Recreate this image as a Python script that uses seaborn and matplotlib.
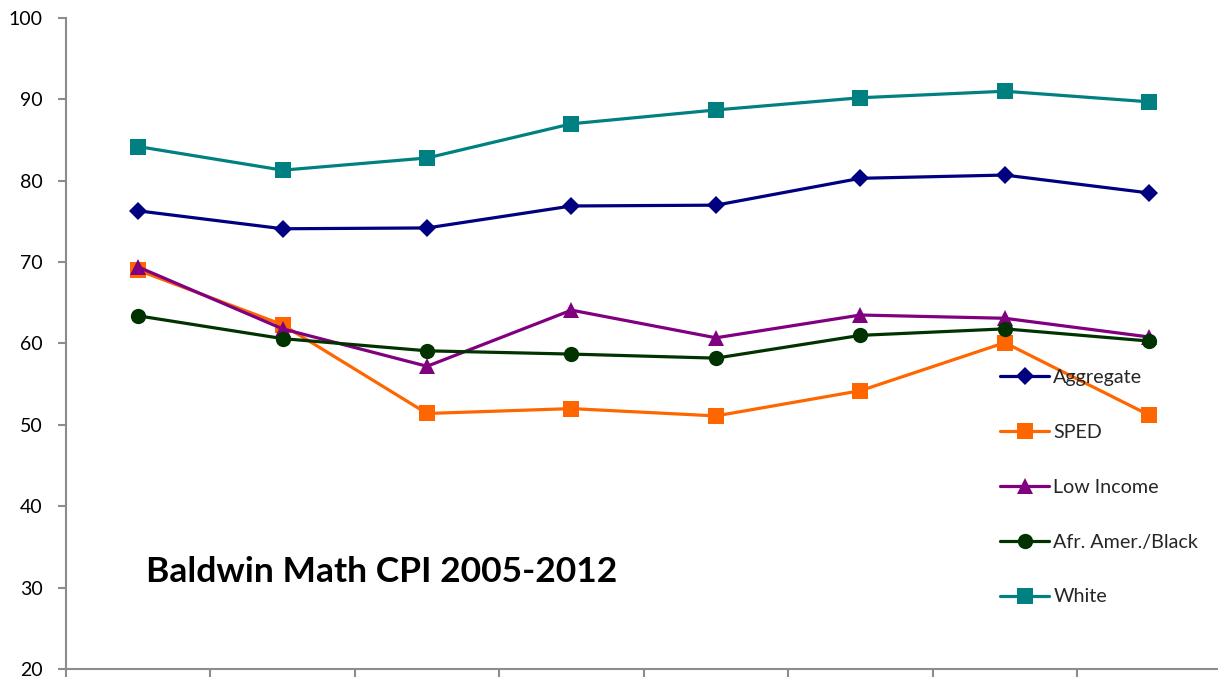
import matplotlib
matplotlib.use("Agg")
import matplotlib.pyplot as plt
import numpy as np
import pandas as pd
import seaborn as sns

# Yearly CPI by student group (2005-2012)
years = ["2005", "2006", "2007", "2008", "2009", "2010", "2011", "2012"]
aggregate = [76.3, 74.1, 74.2, 76.9, 77.0, 80.3, 80.7, 78.5]
sped = [69.0, 62.3, 51.4, 52.0, 51.1, 54.2, 60.1, 51.2]
low_income = [69.4, 61.8, 57.2, 64.1, 60.7, 63.5, 63.1, 60.8]
afr_amer_black = [63.4, 60.6, 59.1, 58.7, 58.2, 61.0, 61.8, 60.3]
white = [84.2, 81.3, 82.8, 87.0, 88.7, 90.2, 91.0, 89.7]

groups = ["Aggregate", "SPED", "Low Income", "Afr. Amer./Black", "White"]
series = [aggregate, sped, low_income, afr_amer_black, white]
colors = ["#000080", "#FF6600", "#800080", "#003300", "#008080"]
markers = ["D", "s", "^", "o", "s"]
sizes = [9, 11, 11, 11, 11]

df = pd.DataFrame({
    "pos": np.tile(np.arange(len(years)), len(groups)),
    "year": years * len(groups),
    "group": np.repeat(groups, len(years)),
    "cpi": np.concatenate(series),
})

sns.set_theme(style="white")
plt.rcParams["font.family"] = ["Lato", "DejaVu Sans"]

fig = plt.figure(figsize=(12.18, 6.77), dpi=100)
ax = fig.add_axes([66 / 1218, 8 / 677, 1155.4 / 1218, 651 / 677])

for g, c, m, ms in zip(groups, colors, markers, sizes):
    sub = df[df["group"] == g]
    sns.lineplot(data=sub, x="pos", y="cpi", ax=ax, color=c, marker=m,
                 markersize=ms, markeredgewidth=0, linewidth=2.3, label=g,
                 clip_on=False)

ax.set_xlim(-0.5, len(years) - 0.5)
ax.set_ylim(20, 100)
ax.set_yticks(np.arange(20, 101, 10))
ax.set_xticks(np.arange(-0.5, len(years), 1.0))
ax.set_xticklabels([])
ax.set_xlabel("")
ax.set_ylabel("")

for side in ["top", "right"]:
    ax.spines[side].set_visible(False)
for side in ["left", "bottom"]:
    ax.spines[side].set_color("#8c8c8c")
    ax.spines[side].set_linewidth(1.5)

ax.tick_params(axis="y", which="major", direction="out", length=6, width=1.5,
               color="#8c8c8c", labelsize=14, pad=11, left=True,
               labelcolor="#000000")
ax.tick_params(axis="x", which="major", direction="out", length=6, width=1.5,
               color="#8c8c8c", bottom=True)

leg = ax.legend(loc="upper left", bbox_to_anchor=(1000 / 1218, 1 - 369 / 677),
                bbox_transform=fig.transFigure, frameon=False, fontsize=14.2,
                handlelength=2.5, handletextpad=0.2, labelspacing=1.92,
                borderpad=0, borderaxespad=0)

fig.text(146 / 1218, 1 - 572 / 677, "Baldwin Math CPI 2005-2012",
         fontsize=25.5, fontweight="bold", va="center", ha="left", color="#000000")

fig.savefig("out.png", dpi=100)
